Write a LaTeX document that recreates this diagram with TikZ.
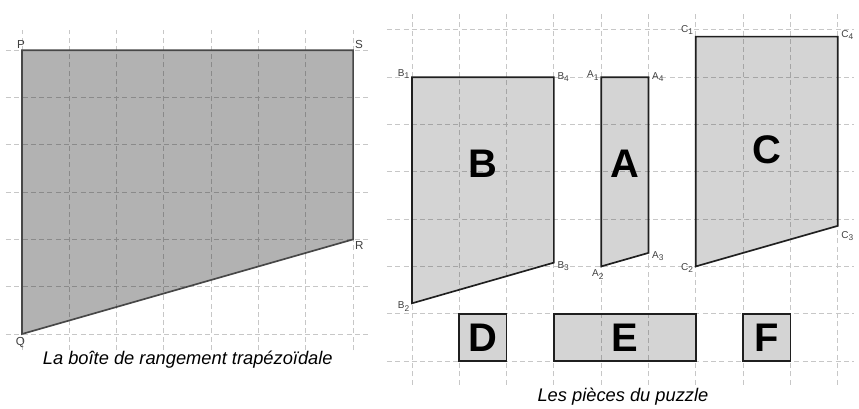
\documentclass[tikz,border=0pt]{standalone}
\usepackage{fontspec}
\setsansfont{Liberation Sans}
\usetikzlibrary{positioning}
\tikzset{
  gridline/.style={draw=black!22, dash pattern=on 3pt off 2pt, line width=0.5pt},
  boxshape/.style={draw=black!72, line width=1pt, fill=black, fill opacity=0.3, draw opacity=1},
  piece/.style={draw=black!88, line width=1pt, fill=black, fill opacity=0.17, draw opacity=1},
  ptlabel/.style={font=\sffamily\fontsize{7}{8}\selectfont, text=black!75, inner sep=1pt},
  vlabel/.style={font=\sffamily\fontsize{6}{7}\selectfont, text=black!75, inner sep=1pt},
  bigletter/.style={font=\sffamily\bfseries\fontsize{24}{28}\selectfont},
  caption/.style={font=\sffamily\itshape\fontsize{11}{13}\selectfont, anchor=base},
}

\begin{document}
\begin{tikzpicture}
  \useasboundingbox (0,0) rectangle (18.16,8.626);

  % the box
  \begin{scope}[shift={(0.465,1.565)}]
    \foreach \i in {0,...,7} \draw[gridline] (\i,-0.34) -- (\i,6.43);
    \foreach \j in {0,...,6} \draw[gridline] (-0.34,\j) -- (7.34,\j);
    \coordinate (P) at (0,6);
    \coordinate (Q) at (0,0);
    \coordinate (R) at (7,2);
    \coordinate (S) at (7,6);
    \draw[boxshape] (P) -- (Q) -- (R) -- (S) -- cycle;
    \node[ptlabel, above left=0pt and -3pt of P] (lP) {P};
    \node[ptlabel, above right=0pt and 0pt of S] (lS) {S};
    \node[ptlabel, below right=0pt and 0pt of R] (lR) {R};
    \node[ptlabel, below left=1pt and -3pt of Q] (lQ) {Q};
  \end{scope}
  \node[caption] (boxcap) at (3.97,0.91) {La boîte de rangement trapézoïdale};

  % the pieces
  \begin{scope}[shift={(8.71,0.994)}]
    \foreach \i in {0,...,9} \draw[gridline] (\i,-0.5) -- (\i,7.4);
    \foreach \j in {0,...,7} \draw[gridline] (-0.53,\j) -- (9.35,\j);

    \coordinate (B1) at (0,6);
    \coordinate (B2) at (0,1.22);
    \coordinate (B3) at (3,2.08);
    \coordinate (B4) at (3,6);
    \draw[piece] (B1) -- (B2) -- (B3) -- (B4) -- cycle;

    \coordinate (A1) at (4,6);
    \coordinate (A2) at (4,2);
    \coordinate (A3) at (5,2.286);
    \coordinate (A4) at (5,6);
    \draw[piece] (A1) -- (A2) -- (A3) -- (A4) -- cycle;

    \coordinate (C1) at (6,6.857);
    \coordinate (C2) at (6,2);
    \coordinate (C3) at (9,2.857);
    \coordinate (C4) at (9,6.857);
    \draw[piece] (C1) -- (C2) -- (C3) -- (C4) -- cycle;

    \draw[piece] (1,0) rectangle (2,1);
    \draw[piece] (3,0) rectangle (6,1);
    \draw[piece] (7,0) rectangle (8,1);

    \node[bigletter] (pB) at (1.5,4.16) {B};
    \node[bigletter] (pA) at (4.5,4.16) {A};
    \node[bigletter] (pC) at (7.5,4.47) {C};
    \node[bigletter] (pD) at (1.5,0.5) {D};
    \node[bigletter] (pE) at (4.5,0.5) {E};
    \node[bigletter] (pF) at (7.5,0.5) {F};

    \node[vlabel, left=0pt of B1, yshift=2pt] (lB1) {B\textsubscript{1}};
    \node[vlabel, left=0pt of B2, yshift=-2pt] (lB2) {B\textsubscript{2}};
    \node[vlabel, right=1pt of B3, yshift=-2pt] (lB3) {B\textsubscript{3}};
    \node[vlabel, right=1pt of B4] (lB4) {B\textsubscript{4}};
    \node[vlabel, left=0pt of A1, yshift=1pt] (lA1) {A\textsubscript{1}};
    \node[vlabel, below left=1pt and -3pt of A2] (lA2) {A\textsubscript{2}};
    \node[vlabel, right=1pt of A3, yshift=-2pt] (lA3) {A\textsubscript{3}};
    \node[vlabel, right=1pt of A4] (lA4) {A\textsubscript{4}};
    \node[vlabel, above left=0pt and 0pt of C1] (lC1) {C\textsubscript{1}};
    \node[vlabel, left=0pt of C2, yshift=-1pt] (lC2) {C\textsubscript{2}};
    \node[vlabel, below right=2pt and 1pt of C3] (lC3) {C\textsubscript{3}};
    \node[vlabel, right=1pt of C4, yshift=1pt] (lC4) {C\textsubscript{4}};
  \end{scope}
  \node[caption] (piececap) at (13.17,0.13) {Les pièces du puzzle};
\end{tikzpicture}
\end{document}
